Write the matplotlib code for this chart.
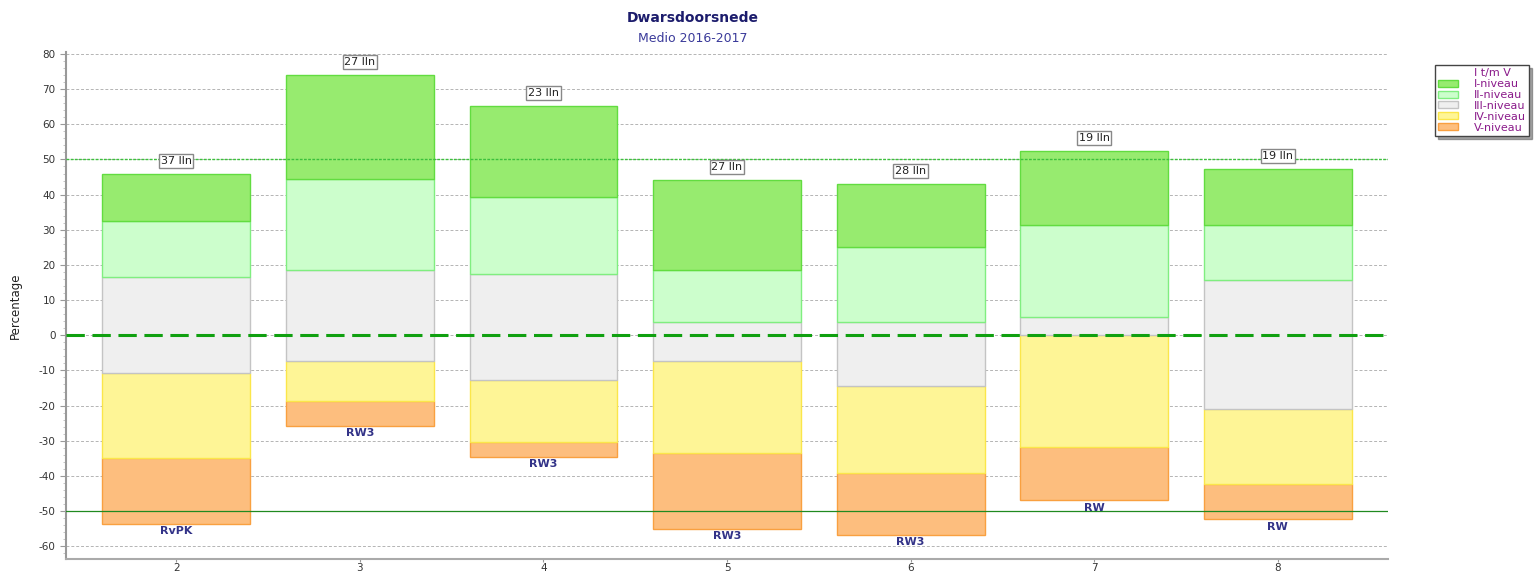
import matplotlib.pyplot as plt
from matplotlib.patches import Patch

plt.rcParams['axes.unicode_minus'] = False

# data (percentages per niveau)
groepen = [2, 3, 4, 5, 6, 7, 8]
niveau_V = [18.8, 7.1, 4.0, 21.8, 17.6, 15.3, 10.2]
niveau_IV = [24.4, 11.4, 17.9, 26.1, 25.0, 31.7, 21.3]
niveau_III = [27.2, 25.8, 30.1, 11.2, 18.2, 5.3, 36.7]
niveau_II = [16.0, 25.9, 21.9, 14.7, 21.3, 26.1, 15.6]
niveau_I = [13.3, 29.5, 25.8, 25.6, 17.8, 21.0, 15.9]
onderkant = [-53.8, -25.7, -34.5, -55.2, -56.9, -47.0, -52.4]
aantal_lln = [37, 27, 23, 27, 28, 19, 19]
toetsen = ['RvPK', 'RW3', 'RW3', 'RW3', 'RW3', 'RW', 'RW']

niveaus = [
    ('V-niveau', niveau_V, '#fdbe7e', '#f9a040'),
    ('IV-niveau', niveau_IV, '#fef596', '#fbe64a'),
    ('III-niveau', niveau_III, '#efefef', '#c4c4c4'),
    ('II-niveau', niveau_II, '#ccfecc', '#80ee80'),
    ('I-niveau', niveau_I, '#97eb6f', '#62dc40'),
]

fig = plt.figure(figsize=(15.39, 5.74), dpi=100)
ax = fig.add_axes([0.0429, 0.027, 0.859, 0.882])

basis = list(onderkant)
for naam, waarden, kleur, rand in niveaus:
    ax.bar(groepen, waarden, bottom=basis, width=0.805, color=kleur,
           edgecolor=rand, linewidth=1.0, zorder=3)
    basis = [b + w for b, w in zip(basis, waarden)]

# labels boven en onder de staven
for x, top, bodem, n, t in zip(groepen, basis, onderkant, aantal_lln, toetsen):
    ax.text(x, top + 3.7, f'{n} lln', ha='center', va='center', fontsize=8,
            color='#222222', zorder=6,
            bbox=dict(boxstyle='square,pad=0.15', fc='white', ec='#888888', lw=1))
    ax.text(x, bodem - 2.0, t, ha='center', va='center', fontsize=8,
            fontweight='bold', color='#333388', zorder=6)

ax.axhline(0, color='#10a010', lw=2.2, ls=(0, (6, 2.5)), zorder=5)
ax.axhline(50, color='#3cc03c', lw=1.0, ls=(0, (2, 1)), zorder=4)
ax.axhline(-50, color='#208a20', lw=0.9, zorder=4)

ax.set_xlim(1.4, 8.6)
ax.set_ylim(-63.5, 80.5)
ax.set_xticks(groepen)
ax.set_yticks(range(-60, 81, 10))
ax.set_yticks(range(-62, 81, 2), minor=True)
ax.yaxis.grid(True, color='#b4b4b4', ls=(0, (3, 2)), lw=0.7, zorder=0)
ax.tick_params(axis='both', labelsize=7.5, colors='#333333', length=4, color='#999999')
ax.tick_params(axis='y', which='minor', length=2, color='#bbbbbb')
ax.tick_params(axis='x', length=2, pad=1)
for kant in ['top', 'right']:
    ax.spines[kant].set_visible(False)
ax.spines['left'].set_color('#999999')
ax.spines['left'].set_linewidth(1.5)
ax.spines['bottom'].set_color('#aaaaaa')
ax.spines['bottom'].set_linewidth(1.5)
ax.set_ylabel('Percentage', fontsize=8.5, color='#222222', labelpad=12)

fig.text(0.45, 0.968, 'Dwarsdoorsnede', ha='center', va='center',
         fontsize=10, fontweight='bold', color='#1c1c6c')
fig.text(0.45, 0.933, 'Medio 2016-2017', ha='center', va='center',
         fontsize=9, color='#3a3a9a')

handles = [Patch(facecolor='none', edgecolor='none', label='I t/m V')]
handles += [Patch(facecolor=k, edgecolor=r, label=n) for n, _, k, r in reversed(niveaus)]
leg = fig.legend(handles=handles, loc='upper left',
                 bbox_to_anchor=(0.9325, 0.887), fontsize=8,
                 frameon=True, fancybox=False, shadow=True, borderpad=0.3,
                 labelspacing=0.08, handlelength=1.8, handleheight=0.6,
                 handletextpad=1.4, borderaxespad=0)
leg.get_frame().set_edgecolor('#444444')
for txt in leg.get_texts():
    txt.set_color('#8a1a8a')

fig.savefig('out.png', dpi=100)
